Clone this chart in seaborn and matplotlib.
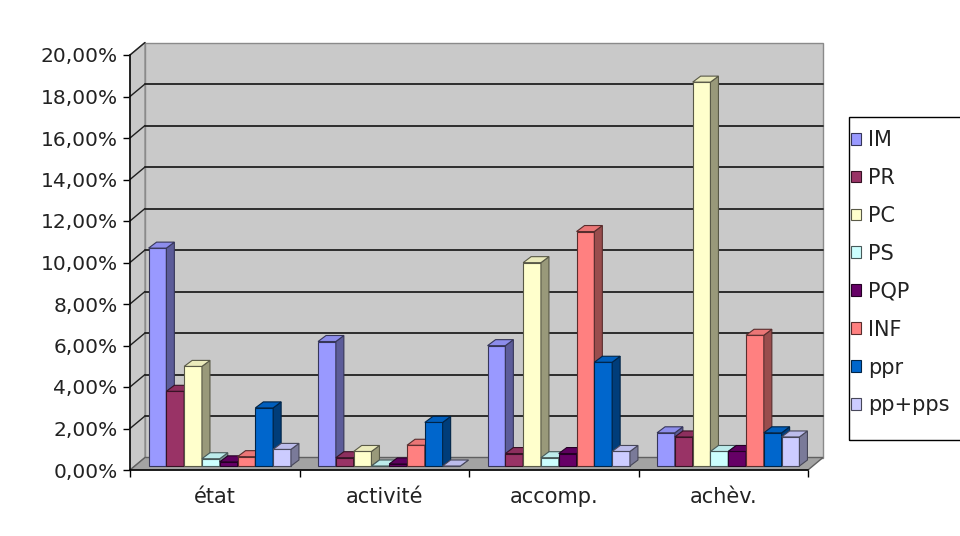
import numpy as np
import pandas as pd
import matplotlib
matplotlib.use("Agg")
import matplotlib.pyplot as plt
import matplotlib.colors as mcolors
from matplotlib.patches import Polygon, Rectangle, Patch
from matplotlib.transforms import offset_copy, IdentityTransform
import seaborn as sns

# ---- data (percent) ----
categories = ["état", "activité", "accomp.", "achèv."]
series = ["IM", "PR", "PC", "PS", "PQP", "INF", "ppr", "pp+pps"]
im = [10.5, 6.0, 5.8, 1.6]
pr = [3.6, 0.4, 0.6, 1.4]
pc = [4.8, 0.7, 9.8, 18.5]
ps = [0.35, 0.0, 0.4, 0.7]
pqp = [0.2, 0.1, 0.6, 0.7]
inf = [0.45, 1.0, 11.3, 6.3]
ppr = [2.8, 2.1, 5.0, 1.6]
pp_pps = [0.8, 0.0, 0.7, 1.4]
colors = ["#9999FF", "#993366", "#FFFFCC", "#CCFFFF", "#660066", "#FF8080", "#0066CC", "#CCCCFF"]
y_ticks = list(range(0, 21, 2))

values = [im, pr, pc, ps, pqp, inf, ppr, pp_pps]
df = pd.DataFrame(
    [(c, s, v) for s, vals in zip(series, values) for c, v in zip(categories, vals)],
    columns=["catégorie", "série", "valeur"],
)

sns.set_theme(style="white")
plt.rcParams["font.family"] = ["DejaVu Sans"]

W, H = 960, 536
fig = plt.figure(figsize=(W / 100, H / 100), dpi=100)
fig.patch.set_facecolor("white")
ax = fig.add_axes([130 / W, 66 / H, 678 / W, 415 / H])
ax.set_facecolor("none")

sns.barplot(
    data=df, x="catégorie", y="valeur", hue="série",
    order=categories, hue_order=series, palette=colors,
    width=0.84, gap=0, saturation=1, linewidth=0.8, ax=ax,
)
if ax.get_legend() is not None:
    ax.get_legend().remove()

ax.set_xlim(-0.5, 3.5)
ax.set_ylim(0, 20)


def shade(c, f):
    r, g, b = mcolors.to_rgb(c)
    return (r * f, g * f, b * f)


# depth offsets in pixels
WALL_DX, WALL_DY = 15, 12.5   # back wall relative to front plane
BAR_DX0, BAR_DY0 = 5, 4       # bar front faces behind the front plane
BAR_DX, BAR_DY = 8, 6         # bar depth

back = offset_copy(ax.transData, fig=fig, x=WALL_DX, y=WALL_DY, units="dots")
bar_tr = offset_copy(ax.transData, fig=fig, x=BAR_DX0, y=BAR_DY0, units="dots")
ident = IdentityTransform()

wall_c = "#c9c9c9"
wall_edge = "#8a8a8a"

# back wall and its gridlines
ax.add_patch(Rectangle((-0.5, 0), 4, 20, transform=back, facecolor=wall_c,
                       edgecolor=wall_edge, lw=1, zorder=0.5, clip_on=False))
for t in y_ticks[1:-1]:
    ax.plot([-0.5, 3.5], [t, t], transform=back, color="#202020", lw=1.3,
            zorder=0.6, clip_on=False)

# side wall
pf = ax.transData.transform([(-0.5, 0), (-0.5, 20)])
pb = back.transform([(-0.5, 0), (-0.5, 20)])
ax.add_patch(Polygon([pf[0], pf[1], pb[1], pb[0]], closed=True, transform=ident,
                     facecolor=wall_c, edgecolor=wall_edge, lw=1, zorder=0.55, clip_on=False))
for t in y_ticks[1:]:
    a = ax.transData.transform((-0.5, t))
    b = back.transform((-0.5, t))
    ax.plot([a[0], b[0]], [a[1], b[1]], transform=ident, color="#202020", lw=1.0,
            zorder=0.65, clip_on=False)

# floor
ff = ax.transData.transform([(-0.5, 0), (3.5, 0)])
fb = back.transform([(-0.5, 0), (3.5, 0)])
ax.add_patch(Polygon([ff[0], ff[1], fb[1], fb[0]], closed=True, transform=ident,
                     facecolor="#a3a3a3", edgecolor="#606060", lw=1, zorder=0.7, clip_on=False))

# 3-D bars: move front faces back, add side and top faces
bars = []
for container, col in zip(ax.containers, colors):
    for rect in container:
        bars.append((rect, col))
bars.sort(key=lambda rc: rc[0].get_x())
for k, (rect, col) in enumerate(bars):
    z = 3 + k * 0.01
    edge = shade(col, 0.35)
    rect.set_transform(bar_tr)
    rect.set_edgecolor(edge)
    rect.set_linewidth(0.8)
    rect.set_zorder(z)
    x0, x1 = rect.get_x(), rect.get_x() + rect.get_width()
    h = rect.get_height()
    (px0, py0), (px1, py1) = bar_tr.transform([(x0, 0), (x1, h)])
    side = [(px1, py0), (px1, py1), (px1 + BAR_DX, py1 + BAR_DY), (px1 + BAR_DX, py0 + BAR_DY)]
    top = [(px0, py1), (px1, py1), (px1 + BAR_DX, py1 + BAR_DY), (px0 + BAR_DX, py1 + BAR_DY)]
    ax.add_patch(Polygon(side, closed=True, transform=ident, facecolor=shade(col, 0.6),
                         edgecolor=edge, lw=0.8, zorder=z, clip_on=False))
    ax.add_patch(Polygon(top, closed=True, transform=ident, facecolor=shade(col, 0.92),
                         edgecolor=edge, lw=0.8, zorder=z, clip_on=False))

# axes
for s in ["top", "right"]:
    ax.spines[s].set_visible(False)
for s in ["left", "bottom"]:
    ax.spines[s].set_visible(True)
    ax.spines[s].set_color("black")
    ax.spines[s].set_linewidth(1.1)
    ax.spines[s].set_zorder(10)

txt = "#222222"
ax.set_yticks(y_ticks)
ax.set_yticklabels([f"{t:.2f}".replace(".", ",") + "%" for t in y_ticks])
ax.set_xticks(range(len(categories)))
ax.set_xticklabels(categories)
ax.set_xticks(np.arange(-0.5, len(categories)), minor=True)
ax.tick_params(axis="y", left=True, length=5, width=1, direction="out", pad=4,
               labelsize=14.5, colors="black", labelcolor=txt)
ax.tick_params(axis="x", which="major", bottom=True, length=0, pad=12,
               labelsize=15, colors="black", labelcolor=txt)
ax.tick_params(axis="x", which="minor", bottom=True, length=5, width=1,
               direction="out", colors="black")
ax.set_xlabel("")
ax.set_ylabel("")
ax.grid(False)

# legend with a hand-placed frame
fig.add_artist(Rectangle((849 / W, 1 - 440 / H), (962 - 849) / W, (440 - 117) / H,
                         transform=fig.transFigure, fill=False, edgecolor="black", lw=1))
handles = [Patch(facecolor=c, edgecolor=shade(c, 0.35), lw=0.8) for c in colors]
leg = fig.legend(handles, series, loc="upper left",
                 bbox_to_anchor=(851 / W, 1 - 130 / H), frameon=False,
                 fontsize=15, handlelength=0.5, handleheight=0.5,
                 handletextpad=0.3, labelspacing=0.86, borderpad=0, borderaxespad=0)
for t in leg.get_texts():
    t.set_color(txt)

fig.savefig("out.png", dpi=100, facecolor="white")
